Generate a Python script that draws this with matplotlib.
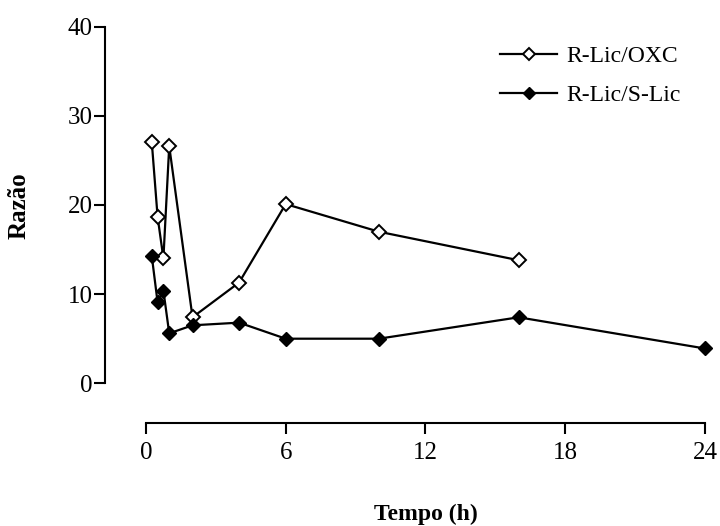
import matplotlib
matplotlib.use("Agg")
import matplotlib.pyplot as plt

# Data
time_oxc = [0.25, 0.5, 0.75, 1, 2, 4, 6, 10, 16]
ratio_oxc = [27.1, 18.7, 14.0, 26.6, 7.4, 11.3, 20.1, 17.0, 13.8]
time_slic = [0.25, 0.5, 0.75, 1, 2, 4, 6, 10, 16, 24]
ratio_slic = [14.3, 9.1, 10.4, 5.6, 6.5, 6.8, 5.0, 5.0, 7.4, 3.9]
xticks = [0, 6, 12, 18, 24]
yticks = [0, 10, 20, 30, 40]
labels = ["R-Lic/OXC", "R-Lic/S-Lic"]

plt.rcParams['font.family'] = ['Liberation Serif', 'DejaVu Serif']

W, H = 720, 526
fig = plt.figure(figsize=(W / 100, H / 100), dpi=100)
ax = fig.add_axes([105 / W, (H - 423) / H, 607 / W, 399 / H])

ax.plot(time_oxc, ratio_oxc, color='black', lw=1.6, marker='D', ms=7.4,
        mfc='white', mec='black', mew=1.4, label=labels[0], zorder=3)
ax.plot(time_slic, ratio_slic, color='black', lw=1.6, marker='D', ms=7.4,
        mfc='black', mec='black', mew=1.0, label=labels[1], zorder=3)

ax.set_xlim(-1.757, 24.3)
ax.set_ylim(-4.457, 40.3)
ax.spines['left'].set_bounds(0, 40)
ax.spines['bottom'].set_bounds(0, 24)
for s in ['top', 'right']:
    ax.spines[s].set_visible(False)
for s in ['left', 'bottom']:
    ax.spines[s].set_linewidth(1.5)

ax.set_xticks(xticks)
ax.set_yticks(yticks)
ax.tick_params(axis='both', direction='out', length=8, width=1.5,
               labelsize=18, colors='black')
ax.tick_params(axis='y', pad=1)
ax.tick_params(axis='x', pad=6)

leg = ax.legend(loc='upper right', bbox_to_anchor=(0.964, 0.97), frameon=False,
                fontsize=17, handlelength=2.4, handletextpad=0.4,
                labelspacing=0.75, borderaxespad=0.0, markerscale=0.85)

fig.text(19 / W, 1 - 206 / H, "Razão", rotation=90, ha='center', va='center',
         fontsize=18, fontweight='bold')
fig.text(426 / W, 1 - 514 / H, "Tempo (h)", ha='center', va='center',
         fontsize=17, fontweight='bold')

fig.savefig("out.png", dpi=100)
